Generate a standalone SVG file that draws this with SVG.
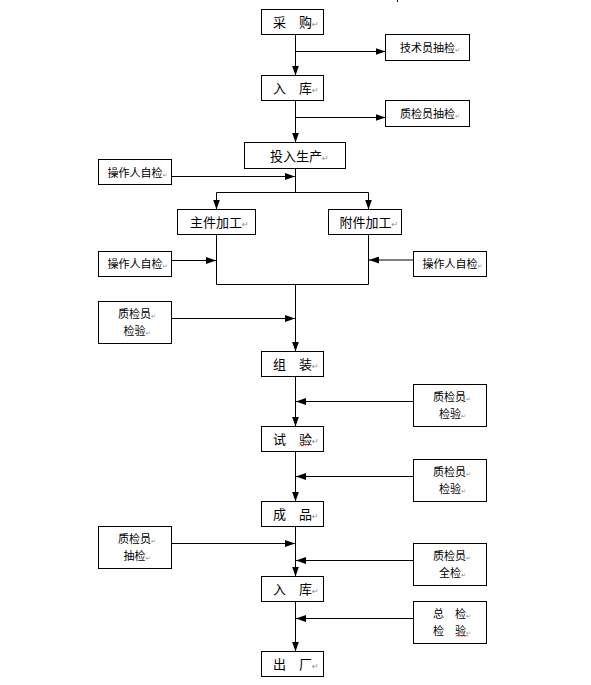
<svg xmlns="http://www.w3.org/2000/svg" width="591" height="685" viewBox="0 0 591 685">
<defs>
<style>
.box{fill:#fff;stroke:#000;stroke-width:1}
.ln{stroke:#000;stroke-width:1;fill:none}
.m{font-family:"Noto Sans CJK SC","Noto Sans CJK JP",sans-serif;font-size:13px;fill:#000}
.s{font-family:"Noto Sans CJK SC","Noto Sans CJK JP",sans-serif;font-size:11px;fill:#000}
.pm{font-family:"DejaVu Sans",sans-serif;font-size:8px;fill:#8c8c8c}
.ps{font-family:"DejaVu Sans",sans-serif;font-size:6px;fill:#8c8c8c}
.sq{stroke:#e02020;stroke-width:0.8;fill:none}
</style>
<marker id="ah" markerUnits="userSpaceOnUse" markerWidth="10" markerHeight="7" refX="10" refY="3.5" orient="auto">
<path d="M0,0 L10,3.5 L0,7 z" fill="#000"/>
</marker>
</defs>
<rect width="591" height="685" fill="#fff"/>
<line x1="397.5" y1="0" x2="397.5" y2="2" class="ln"/>

<g id="connectors">
<line class="ln" x1="295.5" y1="34.5" x2="295.5" y2="75.5" marker-end="url(#ah)"/>
<line class="ln" x1="295.5" y1="51.5" x2="385.5" y2="51.5" marker-end="url(#ah)"/>
<line class="ln" x1="295.5" y1="100.5" x2="295.5" y2="142.5" marker-end="url(#ah)"/>
<line class="ln" x1="295.5" y1="117.5" x2="385.5" y2="117.5" marker-end="url(#ah)"/>
<line class="ln" x1="295.5" y1="168.5" x2="295.5" y2="192.5"/>
<line class="ln" x1="171.5" y1="176.5" x2="295" y2="176.5" marker-end="url(#ah)"/>
<line class="ln" x1="216.5" y1="192.5" x2="368.5" y2="192.5"/>
<line class="ln" x1="216.5" y1="192.5" x2="216.5" y2="209.5" marker-end="url(#ah)"/>
<line class="ln" x1="368.5" y1="192.5" x2="368.5" y2="209.5" marker-end="url(#ah)"/>
<polyline class="ln" points="216.5,234.5 216.5,284.5 368.5,284.5 368.5,234.5"/>
<line class="ln" x1="171.5" y1="260.5" x2="216" y2="260.5" marker-end="url(#ah)"/>
<line class="ln" x1="413.5" y1="260" x2="369" y2="260" marker-end="url(#ah)"/>
<line class="ln" x1="295.5" y1="284.5" x2="295.5" y2="351.5" marker-end="url(#ah)"/>
<line class="ln" x1="171.5" y1="318.5" x2="295" y2="318.5" marker-end="url(#ah)"/>
<line class="ln" x1="295.5" y1="376.5" x2="295.5" y2="426.5" marker-end="url(#ah)"/>
<line class="ln" x1="413.5" y1="401.5" x2="296" y2="401.5" marker-end="url(#ah)"/>
<line class="ln" x1="295.5" y1="451.5" x2="295.5" y2="501.5" marker-end="url(#ah)"/>
<line class="ln" x1="413.5" y1="476.5" x2="296" y2="476.5" marker-end="url(#ah)"/>
<line class="ln" x1="295.5" y1="526.5" x2="295.5" y2="576.5" marker-end="url(#ah)"/>
<line class="ln" x1="171.5" y1="543.5" x2="295" y2="543.5" marker-end="url(#ah)"/>
<line class="ln" x1="413.5" y1="560.5" x2="296" y2="560.5" marker-end="url(#ah)"/>
<line class="ln" x1="295.5" y1="601.5" x2="295.5" y2="651.5" marker-end="url(#ah)"/>
<line class="ln" x1="413.5" y1="618.5" x2="296" y2="618.5" marker-end="url(#ah)"/>
</g>

<g id="n-caigou"><rect class="box" x="261.5" y="9.5" width="62" height="25"/><text class="m" x="273" y="26.5">采　购<tspan class="pm">↵</tspan></text></g>
<g id="n-jishu"><rect class="box" x="385.5" y="34.5" width="84" height="26"/><text class="s" x="400" y="51.5">技术员抽检<tspan class="ps">↵</tspan></text></g>
<g id="n-ruku1"><rect class="box" x="261.5" y="75.5" width="62" height="25"/><text class="m" x="273" y="92.5">入　库<tspan class="pm">↵</tspan></text></g>
<g id="n-zhijian1"><rect class="box" x="385.5" y="100.5" width="84" height="26"/><text class="s" x="400" y="117.5">质检员抽检<tspan class="ps">↵</tspan></text></g>
<g id="n-touru"><rect class="box" x="244.5" y="142.5" width="101" height="26"/><text class="m" x="270" y="160.5">投入生产<tspan class="pm">↵</tspan></text></g>
<g id="n-caozuo1"><rect class="box" x="98.5" y="159.5" width="73" height="25"/><text class="s" x="107.5" y="176.5">操作人自检<tspan class="ps">↵</tspan></text></g>
<g id="n-zhujian"><rect class="box" x="177.5" y="209.5" width="78" height="25"/><text class="m" x="190" y="226.5">主件加工<tspan class="pm">↵</tspan></text></g>
<g id="n-fujian"><rect class="box" x="328.5" y="209.5" width="73" height="25"/><text class="m" x="339.5" y="226.5">附件加工<tspan class="pm">↵</tspan></text></g>
<g id="n-caozuo2"><rect class="box" x="98.5" y="251.5" width="73" height="25"/><text class="s" x="107.5" y="268">操作人自检<tspan class="ps">↵</tspan></text></g>
<g id="n-caozuo3"><rect class="box" x="413.5" y="251.5" width="73" height="25"/><text class="s" x="422.5" y="268">操作人自检<tspan class="ps">↵</tspan></text></g>
<g id="n-zhijian2"><rect class="box" x="98.5" y="301.5" width="73" height="42"/><text class="s" x="118" y="318.3">质检员<tspan class="ps">↵</tspan></text><text class="s" x="123.5" y="334.8">检验<tspan class="ps">↵</tspan></text></g>
<g id="n-zuzhuang"><rect class="box" x="261.5" y="351.5" width="62" height="25"/><text class="m" x="273" y="368.5">组　装<tspan class="pm">↵</tspan></text></g>
<g id="n-zhijian3"><rect class="box" x="413.5" y="384.5" width="73" height="42"/><text class="s" x="433" y="401.3">质检员<tspan class="ps">↵</tspan></text><text class="s" x="439" y="417.8">检验<tspan class="ps">↵</tspan></text></g>
<g id="n-shiyan"><rect class="box" x="261.5" y="426.5" width="62" height="25"/><text class="m" x="273" y="443.5">试　验<tspan class="pm">↵</tspan></text><path class="sq" d="M299.5,445.5 l1.5,-1.5 l1.5,1.5 l1.5,-1.5 l1.5,1.5 l1.5,-1.5 l1.5,1.5 l1.5,-1.5 l1.5,1.5"/></g>
<g id="n-zhijian4"><rect class="box" x="413.5" y="459.5" width="73" height="42"/><text class="s" x="433" y="476.3">质检员<tspan class="ps">↵</tspan></text><text class="s" x="439" y="492.8">检验<tspan class="ps">↵</tspan></text></g>
<g id="n-chengpin"><rect class="box" x="261.5" y="501.5" width="62" height="25"/><text class="m" x="273" y="518.5">成　品<tspan class="pm">↵</tspan></text></g>
<g id="n-zhijian5"><rect class="box" x="98.5" y="526.5" width="73" height="42"/><text class="s" x="118" y="543.3">质检员<tspan class="ps">↵</tspan></text><text class="s" x="123.5" y="559.8">抽检<tspan class="ps">↵</tspan></text></g>
<g id="n-zhijian6"><rect class="box" x="413.5" y="543.5" width="73" height="42"/><text class="s" x="433" y="560.3">质检员<tspan class="ps">↵</tspan></text><text class="s" x="439" y="576.8">全检<tspan class="ps">↵</tspan></text></g>
<g id="n-ruku2"><rect class="box" x="261.5" y="576.5" width="62" height="25"/><text class="m" x="273" y="593.5">入　库<tspan class="pm">↵</tspan></text></g>
<g id="n-zongjian"><rect class="box" x="413.5" y="601.5" width="73" height="42"/><text class="s" x="433" y="618.3">总　检<tspan class="ps">↵</tspan></text><text class="s" x="433" y="634.8">检　验<tspan class="ps">↵</tspan></text><path class="sq" d="M456,636.5 l1.5,-1.5 l1.5,1.5 l1.5,-1.5 l1.5,1.5 l1.5,-1.5 l1.5,1.5 l1.5,-1.5 l1.5,1.5"/></g>
<g id="n-chuchang"><rect class="box" x="261.5" y="651.5" width="62" height="25"/><text class="m" x="273" y="668.5">出　厂<tspan class="pm">↵</tspan></text></g>
</svg>
